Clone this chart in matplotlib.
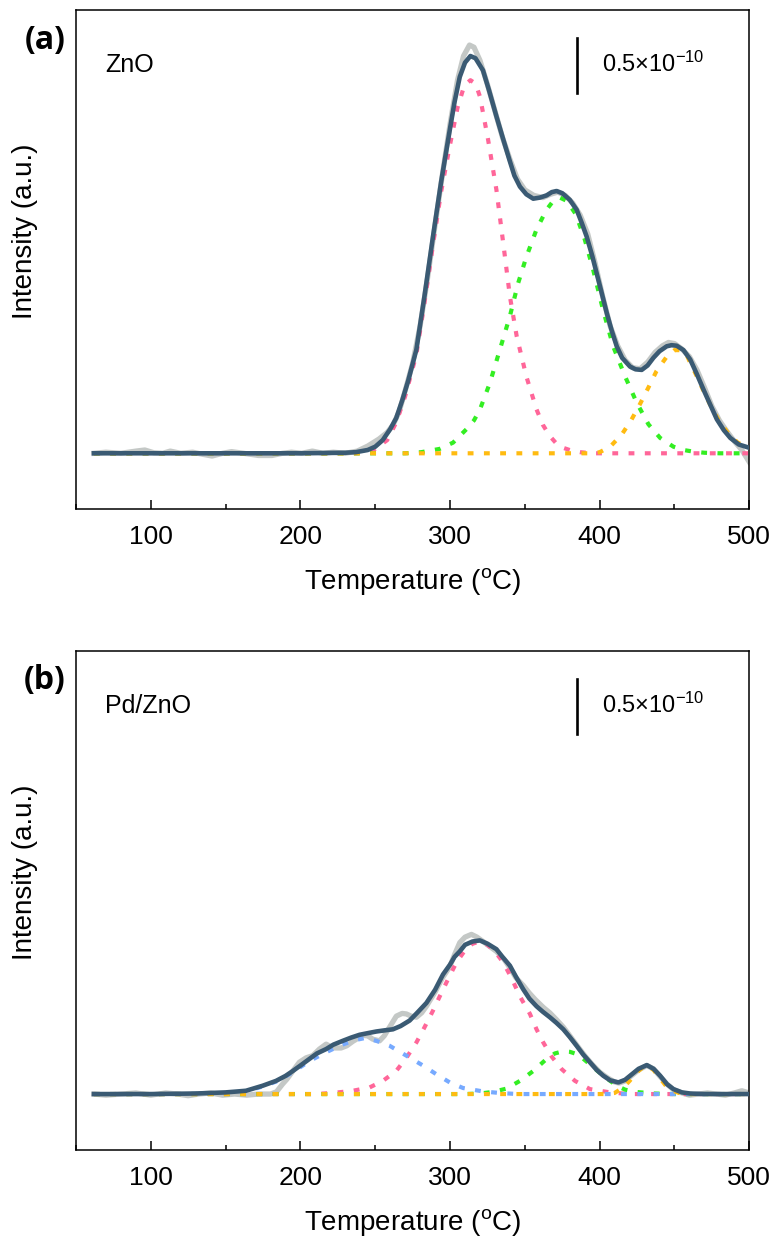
import matplotlib
matplotlib.use("Agg")
import matplotlib.pyplot as plt
from matplotlib.ticker import MultipleLocator

plt.rcParams['font.family'] = ['Liberation Sans', 'DejaVu Sans']
plt.rcParams['mathtext.fontset'] = 'custom'
plt.rcParams['mathtext.rm'] = 'Liberation Sans'
plt.rcParams['mathtext.it'] = 'Liberation Sans:italic'

# intensity values are in units of 1e-10 (scale bar = 0.5)

# ---------------- (a) ZnO ----------------
a_fit_T = [62, 100, 150, 200, 230, 237, 245, 250, 255, 260, 264, 268, 272, 277.5,
           283, 288.6, 294, 299.8, 303, 306.5, 310, 313.6, 317, 322, 326, 331, 336,
           340, 343, 346.7, 351, 355.6, 360, 364.5, 368, 371.2, 375, 380, 384.6, 388,
           391.3, 395, 398, 401, 404.7, 408, 411.4, 415, 420.3, 424, 428.1, 432,
           435.9, 440, 444.8, 448, 451.5, 456, 460.5, 465, 469.4, 474, 478.3, 483,
           487.3, 493, 500]
a_fit_I = [0, 0, 0, 0, 0.005, 0.01, 0.03, 0.06, 0.12, 0.22, 0.32, 0.48, 0.66, 0.945,
           1.44, 1.975, 2.47, 2.945, 3.2, 3.43, 3.56, 3.62, 3.60, 3.49, 3.31, 3.07, 2.84,
           2.66, 2.53, 2.43, 2.36, 2.32, 2.33, 2.35, 2.38, 2.39, 2.37, 2.31, 2.22, 2.10,
           1.975, 1.80, 1.64, 1.48, 1.28, 1.12, 0.975, 0.87, 0.79, 0.765, 0.76, 0.80,
           0.87, 0.93, 0.975, 0.985, 0.98, 0.94, 0.855, 0.72, 0.58, 0.44, 0.31, 0.21,
           0.14, 0.08, 0.05]

a_raw_T = [62, 70, 80, 90, 96, 102, 108, 113, 120, 128, 135, 141, 148, 154, 162, 172,
           181, 188, 194, 201, 208, 215, 222, 230, 238, 245, 252.5, 258, 262, 266, 270,
           275, 280, 285, 290, 295, 300, 305, 309, 313, 316, 320, 325, 330, 335, 340,
           345, 350, 356, 362, 367, 372, 377, 382, 387, 392, 397, 402, 407, 412, 417,
           422, 427, 432, 437, 442, 446, 450, 455, 460, 465, 470, 475, 480, 485, 490,
           495, 500]
a_raw_I = [0.0, 0.01, 0.0, 0.02, 0.03, 0.005, 0.0, 0.02, 0.0, 0.01, -0.01, -0.025, 0.0,
           0.015, 0.0, -0.02, -0.02, 0.0, 0.01, 0.0, 0.02, 0.0, 0.01, 0.0, 0.02, 0.066,
           0.13, 0.19, 0.26, 0.38, 0.57, 0.82, 1.16, 1.60, 2.08, 2.55, 3.00, 3.40, 3.62,
           3.72, 3.70, 3.58, 3.36, 3.12, 2.88, 2.68, 2.50, 2.40, 2.35, 2.33, 2.36, 2.38,
           2.35, 2.28, 2.17, 2.00, 1.73, 1.43, 1.16, 0.98, 0.85, 0.78, 0.77, 0.83, 0.92,
           0.98, 1.01, 1.00, 0.95, 0.88, 0.76, 0.60, 0.43, 0.30, 0.20, 0.11, 0.03, -0.08]

a_pink_T = [62, 240, 250, 258, 264, 270, 277.5, 283, 288.6, 294, 299.8, 305, 309.5,
            313.6, 317, 320, 325.4, 331, 335.5, 340, 344.5, 351, 357.8, 362, 366.7,
            371, 375.6, 381, 387, 395, 500]
a_pink_I = [0, 0.0, 0.04, 0.12, 0.28, 0.52, 0.9, 1.38, 1.9, 2.38, 2.8, 3.15, 3.35,
            3.40, 3.37, 3.25, 2.86, 2.40, 1.92, 1.43, 1.07, 0.70, 0.40, 0.26, 0.157,
            0.09, 0.05, 0.025, 0.01, 0.0, 0]

a_green_T = [62, 270, 280.7, 293, 302, 311, 316, 320, 326.6, 333.3, 340, 345.5, 351,
             357.8, 364.5, 369, 373.4, 378, 384, 390, 395.7, 402, 409, 417, 424.8,
             432.6, 440.4, 449.3, 456, 462.7, 470, 480, 500]
a_green_I = [0, 0.0, 0.01, 0.04, 0.097, 0.22, 0.30, 0.40, 0.64, 0.945, 1.25, 1.55, 1.79,
             2.04, 2.22, 2.30, 2.33, 2.30, 2.18, 1.95, 1.67, 1.32, 0.975, 0.70, 0.46,
             0.264, 0.14, 0.06, 0.03, 0.015, 0.005, 0, 0]

a_orange_T = [62, 395, 400, 407, 414.7, 421, 427, 432.6, 438, 444.8, 450, 454, 458,
              460, 465, 470, 475, 480, 486, 492, 500]
a_orange_I = [0, 0, 0.01, 0.06, 0.17, 0.30, 0.45, 0.60, 0.75, 0.88, 0.94, 0.94, 0.90,
              0.84, 0.70, 0.55, 0.41, 0.29, 0.18, 0.10, 0.04]

# ---------------- (b) Pd/ZnO ----------------
b_fit_T = [62, 100, 130, 150, 163.6, 174.8, 183.7, 190, 194.9, 200, 206, 211, 217.2,
           222, 228.3, 234, 239.5, 245, 250.7, 256, 261.8, 267, 273, 278, 284.2, 290,
           295.3, 300, 303, 306.5, 310, 315, 319.9, 325, 331, 335, 340, 344, 348.9,
           353, 357.8, 362, 366.7, 371, 375.7, 380, 384.6, 389, 393.5, 398, 402.4, 407,
           412.5, 417, 421.5, 426, 431.5, 436, 440.4, 445, 449.3, 455, 460.5, 470, 500]
b_fit_I = [0, 0, 0.005, 0.015, 0.03, 0.076, 0.12, 0.165, 0.21, 0.26, 0.32, 0.37, 0.41,
           0.45, 0.485, 0.515, 0.54, 0.555, 0.57, 0.58, 0.59, 0.62, 0.67, 0.74, 0.83,
           0.95, 1.09, 1.18, 1.25, 1.30, 1.36, 1.39, 1.40, 1.37, 1.32, 1.25, 1.17, 1.07,
           0.955, 0.87, 0.80, 0.75, 0.70, 0.65, 0.59, 0.52, 0.44, 0.36, 0.29, 0.22,
           0.167, 0.125, 0.106, 0.13, 0.18, 0.23, 0.264, 0.23, 0.167, 0.09, 0.045,
           0.015, 0.005, 0, 0]

b_raw_T = [62, 70, 80, 90, 100, 110, 118, 125, 132, 140, 148, 156, 164, 172, 180, 184,
           188, 191, 196, 199.3, 203.8, 208.2, 212.7, 217.2, 221.6, 227.2, 231, 235,
           241.7, 245, 248.4, 252.9, 256, 259.6, 264.1, 268, 270.8, 274, 277.5, 281,
           284.2, 290, 295, 299.8, 303, 306.5, 310, 314.3, 318, 322.1, 326, 331, 336,
           340, 344, 348.9, 353, 357, 362.3, 366.7, 371, 375.7, 380.1, 385, 390, 395,
           400, 405, 410, 413, 417, 421.5, 426, 431.5, 436, 440.4, 445, 449.3, 455, 460,
           466, 472, 478, 484, 490, 495, 500]
b_raw_I = [0, -0.01, 0.0, 0.01, -0.01, 0.01, 0.0, -0.015, 0.0, 0.01, -0.01, 0.0, -0.01,
           0.0, 0.0, 0.02, 0.09, 0.136, 0.23, 0.29, 0.33, 0.35, 0.41, 0.455, 0.42, 0.42,
           0.44, 0.48, 0.535, 0.53, 0.50, 0.485, 0.53, 0.61, 0.71, 0.735, 0.73, 0.71,
           0.70, 0.74, 0.80, 0.93, 1.06, 1.16, 1.27, 1.38, 1.43, 1.455, 1.43, 1.39,
           1.35, 1.30, 1.23, 1.15, 1.06, 0.99, 0.92, 0.86, 0.79, 0.74, 0.68, 0.61, 0.53,
           0.44, 0.35, 0.27, 0.20, 0.15, 0.11, 0.10, 0.12, 0.17, 0.22, 0.26, 0.23, 0.16,
           0.09, 0.04, 0.01, -0.01, 0.0, 0.01, 0.0, -0.01, 0.01, 0.03, 0.01]

b_pink_T = [62, 210, 216, 225, 235, 246.2, 255.1, 264, 270.8, 277.5, 283, 288.6, 293.1,
            298.6, 304.3, 310, 315, 320, 325, 330, 335.5, 341, 346.7, 353.4, 357.8,
            362.3, 368, 374.6, 383.5, 393.5, 407, 420, 500]
b_pink_I = [0, 0, 0.005, 0.015, 0.03, 0.06, 0.12, 0.21, 0.33, 0.47, 0.61, 0.76, 0.89,
            1.045, 1.20, 1.31, 1.37, 1.39, 1.36, 1.30, 1.20, 1.06, 0.89, 0.73, 0.59,
            0.47, 0.34, 0.227, 0.12, 0.045, 0.015, 0.0, 0]

b_blue_T = [62, 120, 140, 150, 165, 175, 185, 195, 206, 217, 228, 236, 243, 250.7,
            259.6, 270.8, 281.9, 290.9, 299.8, 308.7, 322, 333, 345, 500]
b_blue_I = [0, 0, 0.005, 0.01, 0.03, 0.07, 0.12, 0.2, 0.30, 0.38, 0.45, 0.49, 0.51,
            0.485, 0.44, 0.35, 0.26, 0.18, 0.106, 0.055, 0.024, 0.01, 0.0, 0]

b_green_T = [62, 310, 320, 328.8, 337.8, 346.7, 355.6, 364.5, 370, 375.7, 380, 385.7,
             393.5, 402.4, 411.4, 417, 423.7, 436, 450, 500]
b_green_I = [0, 0, 0.005, 0.02, 0.05, 0.12, 0.21, 0.32, 0.37, 0.39, 0.385, 0.36, 0.27,
             0.167, 0.076, 0.04, 0.02, 0.005, 0, 0]

b_orange_T = [62, 405, 410, 415.8, 420, 425, 429, 432, 436, 440, 444, 448, 453, 460, 500]
b_orange_I = [0, 0, 0.01, 0.06, 0.12, 0.20, 0.245, 0.255, 0.22, 0.15, 0.08, 0.035, 0.01,
              0, 0]

# scale bar (same in both panels)
bar_T = 385
bar_low = 3.28
bar_len = 0.5

c_fit = '#3a5a73'
c_raw = '#c4c8c6'
c_pink = '#ff6699'
c_green = '#33ee22'
c_orange = '#ffbb11'
c_blue = '#77aaff'
dash = (0, (1.4, 2.5))

fig = plt.figure(figsize=(7.76, 12.43), dpi=100)
ax_a = fig.add_axes([0.0979, 0.5903, 0.8677, 0.4017])
ax_b = fig.add_axes([0.0979, 0.0748, 0.8677, 0.4017])


def draw_panel(ax, raw, comps, fit, sample, letter, letter_y):
    ax.plot(raw[0], raw[1], color=c_raw, lw=3.8, solid_joinstyle='round', zorder=1)
    for (T, I, col) in comps:
        ax.plot(T, I, color=col, lw=3, linestyle=dash, zorder=2)
    ax.plot(fit[0], fit[1], color=c_fit, lw=3.3, solid_joinstyle='round', zorder=3)

    ax.plot([bar_T, bar_T], [bar_low, bar_low + bar_len], color='black', lw=1.9)
    ax.text(0.7806, 0.876, '0.5\u00d710$\\mathregular{^{-10}}$', transform=ax.transAxes,
            fontsize=17, va='baseline', ha='left')
    ax.text(0.043, 0.876, sample, transform=ax.transAxes, fontsize=18,
            va='baseline', ha='left')
    fig.text(0.058, letter_y, letter, fontsize=23, fontweight='bold',
             family=['Open Sans', 'DejaVu Sans'], ha='center', va='center')

    ax.set_xlim(50, 500)
    ax.set_ylim(-0.51, 4.04)
    ax.xaxis.set_major_locator(MultipleLocator(100))
    ax.xaxis.set_minor_locator(MultipleLocator(50))
    ax.tick_params(axis='x', which='major', direction='in', length=6.5, width=1.1,
                   labelsize=19, pad=11.5)
    ax.tick_params(axis='x', which='minor', direction='in', length=3.6, width=1.1)
    ax.tick_params(axis='y', which='both', left=False, labelleft=False)
    for s in ax.spines.values():
        s.set_linewidth(1.1)
    ax.set_xlabel('Temperature ($\\mathregular{^o}$C)', fontsize=20, labelpad=12)
    ax.set_ylabel('Intensity (a.u.)', fontsize=20)
    ax.yaxis.set_label_coords(-0.056, 0.556)


draw_panel(ax_a, (a_raw_T, a_raw_I),
           [(a_pink_T, a_pink_I, c_pink), (a_green_T, a_green_I, c_green),
            (a_orange_T, a_orange_I, c_orange)],
           (a_fit_T, a_fit_I), 'ZnO', '(a)', 1 - 41 / 1243)
draw_panel(ax_b, (b_raw_T, b_raw_I),
           [(b_pink_T, b_pink_I, c_pink), (b_green_T, b_green_I, c_green),
            (b_blue_T, b_blue_I, c_blue), (b_orange_T, b_orange_I, c_orange)],
           (b_fit_T, b_fit_I), 'Pd/ZnO', '(b)', 1 - 680 / 1243)

fig.savefig('out.png', dpi=100)
